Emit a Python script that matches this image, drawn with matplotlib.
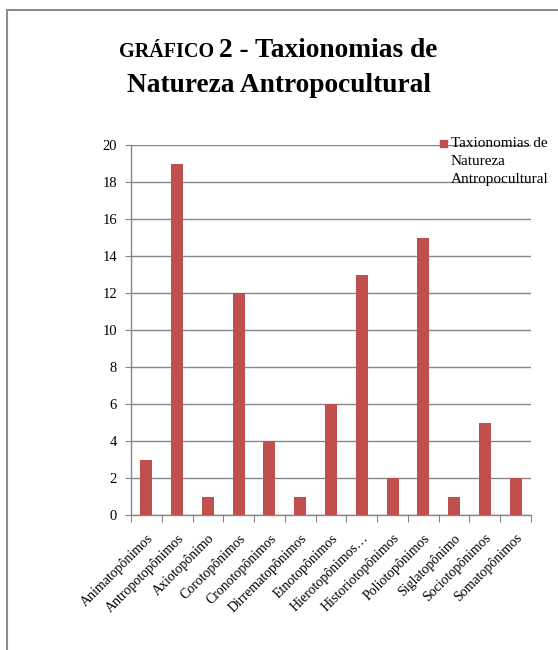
import matplotlib
matplotlib.use("Agg")
import matplotlib.pyplot as plt
from matplotlib.patches import Rectangle
import numpy as np

categories = ["Animatopônimos", "Antropotopônimos", "Axiotopônimo", "Corotopônimos",
              "Cronotopônimos", "Dirrematopônimos", "Etnotopônimos", "Hierotopônimos…",
              "Historiotopônimos", "Poliotopônimos", "Siglatopônimo", "Sociotopônimos",
              "Somatopônimos"]
values = [3, 19, 1, 12, 4, 1, 6, 13, 2, 15, 1, 5, 2]
series_name = "Taxionomias de\nNatureza\nAntropocultural"
yticks = [0, 2, 4, 6, 8, 10, 12, 14, 16, 18, 20]

plt.rcParams['font.family'] = ['Liberation Serif', 'DejaVu Serif']
W, H = 558, 650
fig = plt.figure(figsize=(W/100, H/100), dpi=100)

# outer border
fig.patches.append(Rectangle((7/W, -0.05), 1.2, 1 - 10/H + 0.05, transform=fig.transFigure,
                             fill=False, edgecolor='#8c8c8c', linewidth=1.5))

ax = fig.add_axes([131/W, 1 - 515/H, 400/W, 370/H])
x = np.arange(len(categories))
ax.bar(x, values, width=0.39, color='#C0504D', zorder=3, label=series_name)
ax.set_xlim(-0.5, len(categories) - 0.5)
ax.set_ylim(0, 20)
ax.set_yticks(yticks)
ax.set_yticklabels([str(v) for v in yticks], fontsize=10.5)
ax.yaxis.grid(True, color='#868686', linewidth=1)
ax.set_axisbelow(True)
for s in ['top', 'right']:
    ax.spines[s].set_visible(False)
for s in ['left', 'bottom']:
    ax.spines[s].set_color('#868686')
    ax.spines[s].set_linewidth(1)
ax.tick_params(axis='y', length=4, color='#868686', pad=6)
ax.set_xticks(np.arange(-0.5, len(categories)), minor=False)
ax.set_xticklabels([])
ax.tick_params(axis='x', length=5, color='#868686')
ax.set_xticks(x, minor=True)
ax.set_xticklabels(categories, minor=True, rotation=45, ha='right',
                   rotation_mode='anchor', fontsize=10)
ax.tick_params(axis='x', which='minor', length=0, pad=12)

# legend
fig.patches.append(Rectangle((440/W, 1 - 147/H), 7/W, 7/H, transform=fig.transFigure,
                             color='#C0504D'))
fig.text(451/W, 1 - 147/H, "Taxionomias de", fontsize=11, va='baseline', ha='left')
fig.text(451/W, 1 - 165/H, "Natureza", fontsize=11, va='baseline', ha='left')
fig.text(451/W, 1 - 183/H, "Antropocultural", fontsize=11, va='baseline', ha='left')

# title
fig.canvas.draw()
r = fig.canvas.get_renderer()
t1 = fig.text(0, 1 - 57/H, "GRÁFICO ", fontsize=14.5, fontweight='bold', va='baseline')
t2 = fig.text(0, 1 - 57/H, "2 - Taxionomias de", fontsize=19.7, fontweight='bold', va='baseline')
w1 = t1.get_window_extent(r).width
w2 = t2.get_window_extent(r).width
start = 278 - (w1 + w2) / 2
t1.set_x(start / W)
t2.set_x((start + w1) / W)
fig.text(279/W, 1 - 92/H, "Natureza Antropocultural", fontsize=19.7, fontweight='bold',
         ha='center', va='baseline')

fig.savefig("out.png", dpi=100)
